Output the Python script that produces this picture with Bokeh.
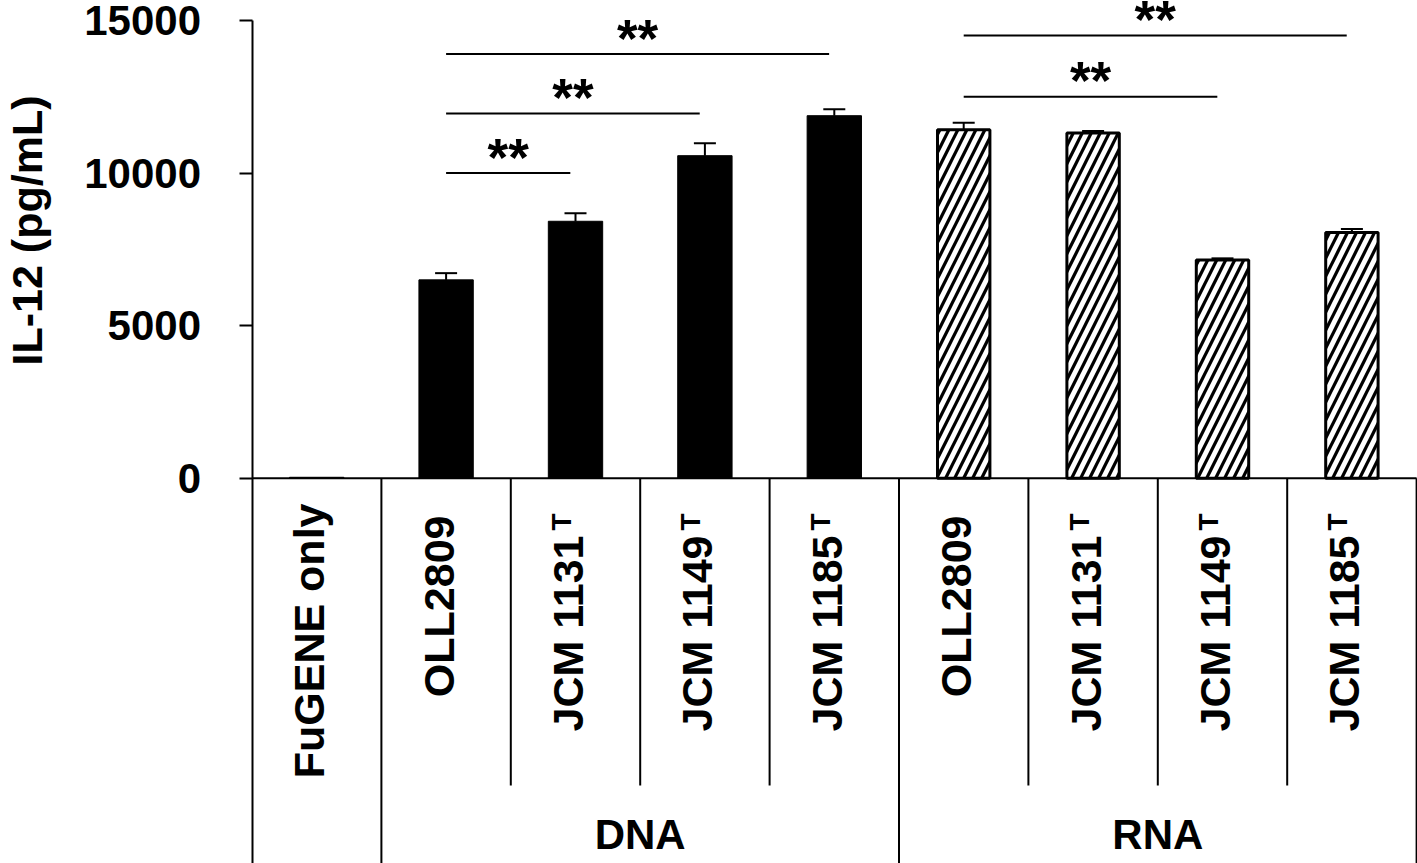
import numpy as np
from bokeh.plotting import figure
from bokeh.models import (ColumnDataSource, FixedTicker, Whisker, TeeHead,
                          Range1d, BasicTickFormatter)
from bokeh.core.properties import value
from bokeh.embed import file_html
from bokeh.resources import INLINE

# ---------------- data ----------------
categories = ["FuGENE only", "OLL2809", "JCM 1131", "JCM 1149", "JCM 1185",
              "OLL2809", "JCM 1131", "JCM 1149", "JCM 1185"]
superscripts = ["", "", "T", "T", "T", "", "T", "T", "T"]
groups = ["", "DNA", "DNA", "DNA", "DNA", "RNA", "RNA", "RNA", "RNA"]
il12_mean = [30, 6500, 8420, 10570, 11880, 11420, 11310, 7150, 8050]
il12_err = [0, 220, 265, 410, 215, 230, 65, 55, 120]
y_ticks = [0, 5000, 10000, 15000]
y_label = "IL-12 (pg/mL)"
sig_from = [1, 1, 1, 5, 5]
sig_to = [2, 3, 4, 7, 8]
sig_level = [10000, 11950, 13900, 12500, 14510]
sig_text = ["**", "**", "**", "**", "**"]

# ---------------- layout ----------------
W, H = 1417, 863
AXIS_X = 251.5                    # canvas x of the value axis
X_PX = 129.4                      # px per category
Y0 = 477.7                        # canvas y of value 0
Y_PPU = (477.7 - 20.0) / 15000.0  # px per unit
FONT = "Liberation Sans"

x_start = -0.5 - AXIS_X / X_PX
x_end = -0.5 + (W - AXIS_X) / X_PX
y_end = Y0 / Y_PPU
y_start = -(H - Y0) / Y_PPU


def val_at(canvas_y):
    return (Y0 - canvas_y) / Y_PPU


def xval_at(canvas_x):
    return x_start + canvas_x / X_PX


def dpx(px):
    return px / Y_PPU


p = figure(width=W, height=H, output_backend="svg", toolbar_location=None,
           x_range=Range1d(x_start, x_end), y_range=Range1d(y_start, y_end),
           x_axis_type=None, min_border_left=0, min_border_right=0,
           min_border_top=0, min_border_bottom=0)
p.outline_line_color = None
p.xgrid.visible = False
p.ygrid.visible = False
p.background_fill_color = "white"
p.border_fill_color = "white"

# y axis (drawn at the left edge of the first category)
ax = p.yaxis[0]
ax.fixed_location = -0.5
ax.ticker = FixedTicker(ticks=y_ticks)
ax.formatter = BasicTickFormatter(use_scientific=False)
ax.bounds = (y_start, 15000)
ax.major_tick_out = 13
ax.major_tick_in = 0
ax.minor_tick_out = 0
ax.minor_tick_in = 0
ax.axis_line_width = 2
ax.axis_line_color = "black"
ax.major_tick_line_width = 2
ax.major_tick_line_color = "black"
ax.major_label_standoff = 38
ax.major_label_text_font = FONT
ax.major_label_text_font_style = "bold"
ax.major_label_text_font_size = "42px"
ax.major_label_text_color = "black"

# y-axis title
p.text(x=[xval_at(26)], y=[val_at(230)], text=[y_label], angle=np.pi / 2,
       text_align="center", text_baseline="middle", text_font=value(FONT),
       text_font_style="bold", text_font_size="43px", text_color="black")

idx = np.arange(len(categories))

# bars
solid = [i for i in idx if groups[i] != "RNA"]
hatched = [i for i in idx if groups[i] == "RNA"]
src_solid = ColumnDataSource(dict(x=[idx[i] for i in solid], top=[il12_mean[i] for i in solid]))
src_hatch = ColumnDataSource(dict(x=[idx[i] for i in hatched], top=[il12_mean[i] for i in hatched]))
p.vbar(x="x", top="top", bottom=0, width=0.42, source=src_solid,
       fill_color="black", line_color="black", line_width=1)
p.vbar(x="x", top="top", bottom=0, width=0.405, source=src_hatch,
       fill_color="white", hatch_pattern="/", hatch_color="black",
       hatch_scale=18, hatch_weight=3.2, line_color="black", line_width=3)

# error bars
ei = [i for i in idx if il12_err[i] > 0]
src_err = ColumnDataSource(dict(x=[idx[i] for i in ei],
                                lower=[il12_mean[i] for i in ei],
                                upper=[il12_mean[i] + il12_err[i] for i in ei]))
wh = Whisker(source=src_err, base="x", lower="lower", upper="upper",
             line_width=2, line_color="black",
             upper_head=TeeHead(size=22, line_width=2, line_color="black"),
             lower_head=None)
p.add_layout(wh)

# baseline and separators
bounds = list(idx - 0.5) + [idx[-1] + 0.5]
p.segment(x0=[bounds[0]], x1=[bounds[-1]], y0=[0], y1=[0], line_color="black", line_width=2)
sep_x, sep_bottom = [], []
for k, b in enumerate(bounds):
    if k == 0:
        continue
    left_g = groups[k - 1]
    right_g = groups[k] if k < len(groups) else None
    long_line = (right_g is None) or (left_g != right_g)
    sep_x.append(b)
    sep_bottom.append(y_start if long_line else val_at(785))
p.segment(x0=sep_x, x1=sep_x, y0=[0] * len(sep_x), y1=sep_bottom,
          line_color="black", line_width=2)

# category labels (rotated)
lab_x, lab_y, lab_t = [], [], []
sup_x, sup_y, sup_t = [], [], []
for i in idx:
    if superscripts[i]:
        end_page = 535
        sup_x.append(i - 14.0 / X_PX)
        sup_y.append(val_at(513))
        sup_t.append(superscripts[i])
    else:
        end_page = 503 if groups[i] == "" else 515
    lab_x.append(i - 7.5 / X_PX)
    lab_y.append(val_at(end_page))
    lab_t.append(categories[i])
p.text(x=lab_x, y=lab_y, text=lab_t, angle=np.pi / 2, text_align="right",
       text_baseline="middle", text_font=value(FONT), text_font_style="bold",
       text_font_size="43px", text_color="black")
p.text(x=sup_x, y=sup_y, text=sup_t, angle=np.pi / 2, text_align="right",
       text_baseline="middle", text_font=value(FONT), text_font_style="bold",
       text_font_size="28px", text_color="black")

# group labels
gnames = [g for g in dict.fromkeys(groups) if g]
gx = [float(np.mean([i for i in idx if groups[i] == g])) for g in gnames]
p.text(x=gx, y=[val_at(834)] * len(gx), text=gnames, text_align="center",
       text_baseline="middle", text_font=value(FONT), text_font_style="bold",
       text_font_size="42px", text_color="black")

# significance
x0s = list(sig_from)
x1s = [t - 0.04 for t in sig_to]
p.segment(x0=x0s, x1=x1s, y0=sig_level, y1=sig_level, line_color="black", line_width=2)
p.text(x=[(a + b) / 2 for a, b in zip(x0s, x1s)],
       y=[lv + dpx(16) for lv in sig_level], text=sig_text,
       text_align="center", text_baseline="middle", text_font=value(FONT),
       text_font_style="bold", text_font_size="53px", text_color="black")

open("out.html", "w").write(file_html(p, INLINE))
